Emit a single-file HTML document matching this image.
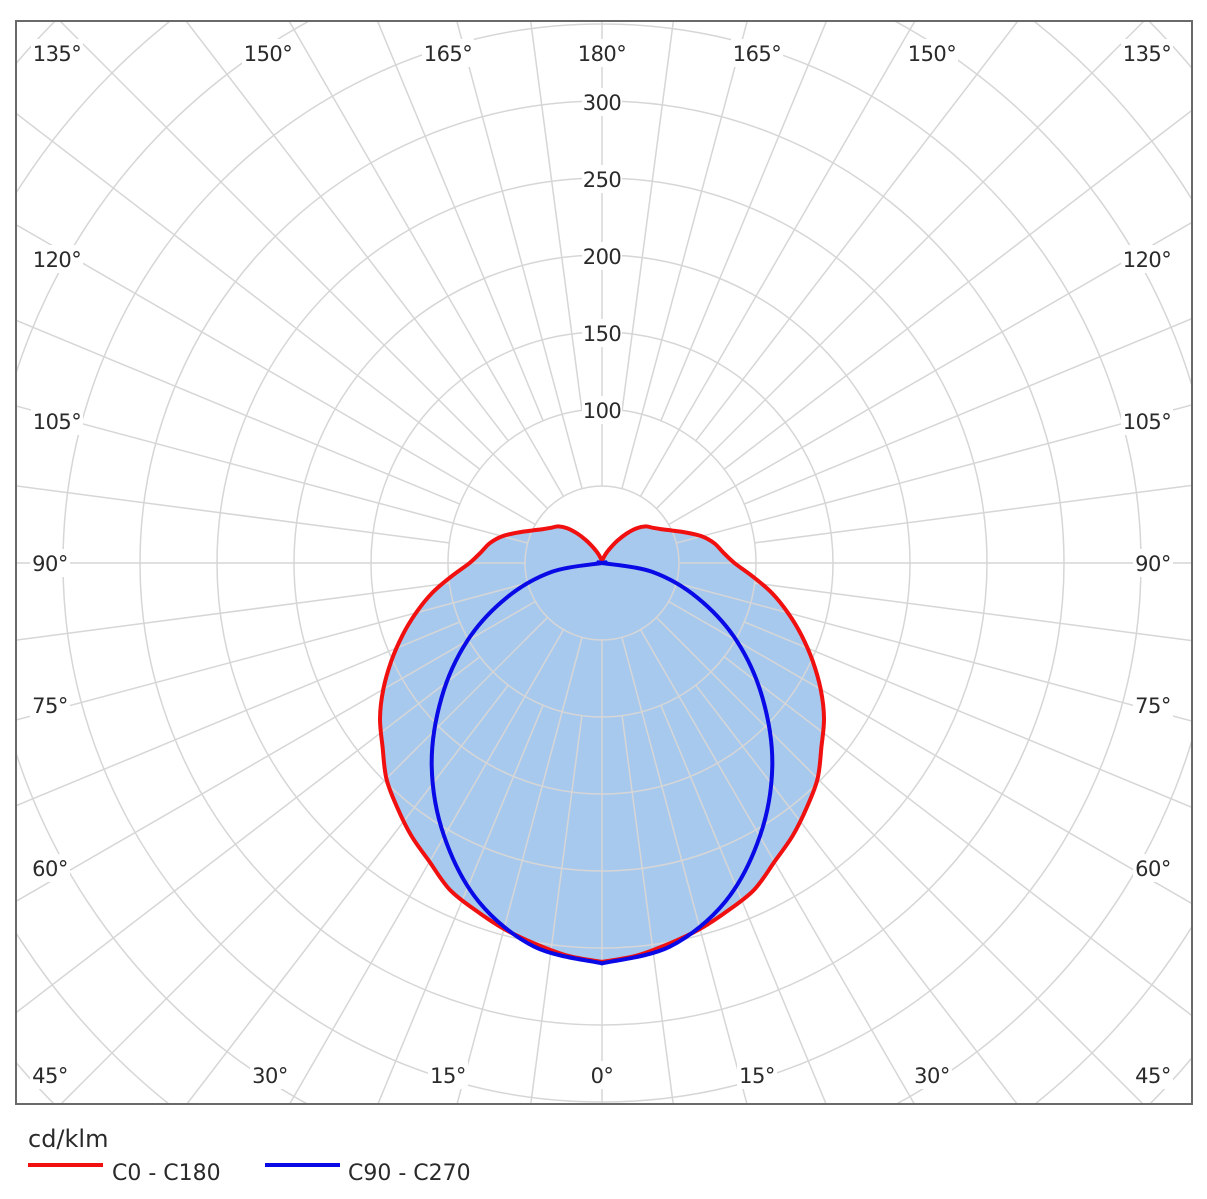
<!DOCTYPE html>
<html><head><meta charset="utf-8"><style>
html,body{margin:0;padding:0;background:#fff;width:1207px;height:1199px;overflow:hidden}
svg text{font-family:"DejaVu Sans","Liberation Sans",sans-serif;fill:#2a2a2a}
</style></head><body>
<svg id="chart" width="1207" height="1199" viewBox="0 0 1207 1199" xmlns="http://www.w3.org/2000/svg">
<defs><clipPath id="box"><rect x="17" y="22" width="1175" height="1082"/></clipPath>
<clipPath id="legclip"><rect x="0" y="1110" width="1207" height="71"/></clipPath></defs>
<g id="fill" clip-path="url(#box)"></g>
<g id="grid" clip-path="url(#box)"></g>
<g id="curves" clip-path="url(#box)"></g>
<g id="labels"></g>
<rect x="16" y="21" width="1176" height="1083" fill="none" stroke="#6a6a6a" stroke-width="2"/>
<g clip-path="url(#legclip)">
<text x="28" y="1147" font-size="24" style="font-family:'DejaVu Sans',sans-serif">cd/klm</text>
<g>
<line x1="28" y1="1165" x2="103" y2="1165" stroke="#f01010" stroke-width="4"/>
<text x="112" y="1180" font-size="22">C0 - C180</text></g>
<g>
<line x1="265" y1="1165" x2="340" y2="1165" stroke="#0a0ae6" stroke-width="4"/>
<text x="348" y="1180" font-size="22">C90 - C270</text></g>
</g>
</svg>
<script>
// data
const redAngles = [0,5,10,15,20,25,30,35,40,45,50,55,60,65,70,75,80,85,90,95,100,105,110,115,120,125,130,135,140,145,150,155,160,165,170,175,180];
const redValues = [259,256,251,246,240,234,224,216,207,198,186,176,164,151,138,125,112,98,86,79,74,67,58,50,44,40,37,32,25,18,12,8,5,3,2,1,1];
const blueAngles = [0,10,20,30,40,50,60,70,80,90,100,180];
const blueValues = [260,253,234,205,172,136,101,66,33,0,0,0];
const ringValues = [50,100,150,200,250,300,350,400,450,500,550];
const ringLabels = ["100","150","200","250","300"];

const cx=602, cy=563, kScale=1.54;
const NS="http://www.w3.org/2000/svg";
const rScale=v=>v*kScale;
function pt(theta,v,sd){const a=theta*Math.PI/180;const r=rScale(v);return [cx+sd*r*Math.sin(a), cy+r*Math.cos(a)];}
function mk(tag,attrs,parent){const e=document.createElementNS(NS,tag);for(const n in attrs)e.setAttribute(n,attrs[n]);parent.appendChild(e);return e;}
function smooth(pts){let d="M"+pts[0][0].toFixed(1)+","+pts[0][1].toFixed(1);
 for(let i=0;i<pts.length-1;i++){const p0=pts[Math.max(0,i-1)],p1=pts[i],p2=pts[i+1],p3=pts[Math.min(pts.length-1,i+2)];
  const c1=[p1[0]+(p2[0]-p0[0])/6,p1[1]+(p2[1]-p0[1])/6],c2=[p2[0]-(p3[0]-p1[0])/6,p2[1]-(p3[1]-p1[1])/6];
  d+=" C"+c1.map(n=>n.toFixed(1))+" "+c2.map(n=>n.toFixed(1))+" "+p2.map(n=>n.toFixed(1));}
 return d;}
function curvePts(angles,vals){const right=angles.map((t,i)=>pt(t,vals[i],1));const left=angles.slice().reverse().map((t,i)=>pt(t,vals[angles.length-1-i],-1));return right.concat(left.slice(1));}

const gFill=document.getElementById('fill'),gGrid=document.getElementById('grid'),gCurves=document.getElementById('curves'),gLab=document.getElementById('labels');
const redPts=curvePts(redAngles,redValues), bluePts=curvePts(blueAngles,blueValues);
const fp=mk('path',{d:smooth(redPts)+"Z",fill:"#a8c9ee",stroke:"none"},gFill);



// grid
ringValues.forEach(v=>{const c=mk('circle',{cx:cx,cy:cy,r:rScale(v),fill:"none",stroke:"#d6d6d6","stroke-width":1.5},gGrid);

});
for(let t=0;t<360;t+=7.5){const major=(t%15===0);const r0=rScale(major?50:100);const a=t*Math.PI/180;
 const l=mk('line',{x1:cx+r0*Math.sin(a),y1:cy+r0*Math.cos(a),x2:cx+1000*Math.sin(a),y2:cy+1000*Math.cos(a),stroke:"#d6d6d6","stroke-width":1.5},gGrid);
 
 }

const rp=mk('path',{d:smooth(redPts)+"Z",fill:"none",stroke:"#f01010","stroke-width":4,"stroke-linejoin":"round"},gCurves);


const bp=mk('path',{d:smooth(bluePts)+"Z",fill:"none",stroke:"#0a0ae6","stroke-width":4,"stroke-linejoin":"round"},gCurves);



function label(txt,x,y,name){const w=txt.length*12+4;
 const r=mk('rect',{x:x-w/2,y:y-14,width:w,height:28,fill:"#fff"},gLab);
 
 
 const t=mk('text',{x:x,y:y+8,"text-anchor":"middle","font-size":21,"letter-spacing":"-0.5"},gLab);t.textContent=txt;
 
 }
ringLabels.forEach(s=>label(s,cx,cy-rScale(+s)+1,'radial-label-'+s));
const topLabels=[["135°",57],["150°",268],["165°",448],["180°",602],["165°",757],["150°",932],["135°",1147]];
topLabels.forEach(([s,x])=>label(s,x,53,'angle-label'));
const sideLabels=[["120°",259],["105°",421],["90°",563],["75°",705],["60°",868],["45°",1075]];
sideLabels.forEach(([s,y])=>{label(s,s.length>3?57:50,y,'angle-label');label(s,s.length>3?1147:1153,y,'angle-label');});
const botLabels=[["30°",270],["15°",448],["0°",602],["15°",757],["30°",932]];
botLabels.forEach(([s,x])=>label(s,x,1075,'angle-label'));
</script>
</body></html>
